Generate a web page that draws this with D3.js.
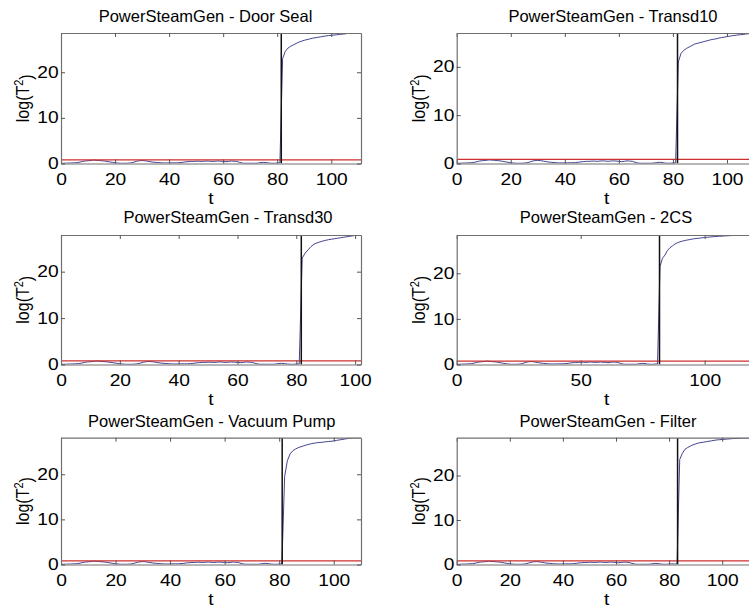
<!DOCTYPE html>
<html>
<head>
<meta charset="utf-8">
<script src="https://cdn.jsdelivr.net/npm/d3@7"></script>
<style>
  body { margin: 0; background: #fff; }
  svg { display: block; }
  text { font-family: "Liberation Sans", Arial, Helvetica, sans-serif; fill: #000; }
</style>
</head>
<body>
<svg id="fig" width="749" height="609"></svg>
<script>
// Panel titles (one fault scenario per subplot)
const titles = [
  "PowerSteamGen - Door Seal",
  "PowerSteamGen - Transd10",
  "PowerSteamGen - Transd30",
  "PowerSteamGen - 2CS",
  "PowerSteamGen - Vacuum Pump",
  "PowerSteamGen - Filter"
];

// log(T^2) during normal operation, samples t = 0..81
const normalSegment = [
  0.05, 0.05, 0.08, 0.10, 0.12, 0.15, 0.20, 0.30, 0.45, 0.55,
  0.60, 0.65, 0.75, 0.70, 0.65, 0.60, 0.55, 0.45, 0.35, 0.25,
  0.15, 0.10, 0.05, 0.05, 0.05, 0.08, 0.15, 0.30, 0.50, 0.60,
  0.65, 0.60, 0.50, 0.40, 0.30, 0.25, 0.20, 0.15, 0.12, 0.12,
  0.12, 0.15, 0.15, 0.15, 0.20, 0.25, 0.35, 0.40, 0.45, 0.45,
  0.50, 0.50, 0.45, 0.50, 0.55, 0.50, 0.45, 0.50, 0.55, 0.50,
  0.45, 0.40, 0.45, 0.55, 0.50, 0.45, 0.25, 0.10, 0.05, 0.05,
  0.05, 0.05, 0.05, 0.10, 0.20, 0.25, 0.20, 0.10, 0.05, 0.05,
  0.10, 0.15
];

// log(T^2) after the fault is introduced, samples from t = 82 onward
const doorSealPost = [
  23.0, 24.6, 25.3, 25.7, 26.0, 26.3, 26.6, 26.8, 27.0, 27.15,
  27.3, 27.45, 27.55, 27.65, 27.75, 27.85, 27.95, 28.05, 28.1, 28.15,
  28.2, 28.3, 28.35, 28.4, 28.5, 28.55, 28.6, 28.6, 28.6, 28.6
];
const transd10Post = [
  21.0, 22.8, 23.4, 23.8, 24.1, 24.4, 24.7, 24.85, 25.0, 25.15,
  25.3, 25.45, 25.6, 25.7, 25.8, 25.95, 26.05, 26.15, 26.25, 26.35,
  26.45, 26.5, 26.6, 26.65, 26.7, 26.8, 26.85, 26.9, 27.0, 27.0
];
const transd30Post = [
  22.9, 24.0, 24.7, 25.4, 25.9, 26.2, 26.4, 26.6, 26.75, 26.9,
  27.0, 27.1, 27.2, 27.3, 27.4, 27.5, 27.6, 27.7, 27.8, 27.9,
  27.9
];
const twoCSPost = [
  21.5, 23.3, 24.0, 25.0, 25.6, 26.0, 26.4, 26.7, 26.9, 27.05,
  27.2, 27.3, 27.4, 27.5, 27.6, 27.65, 27.7, 27.8, 27.85, 27.9,
  27.95, 28.0, 28.05, 28.1, 28.12, 28.15, 28.2, 28.22, 28.25, 28.28,
  28.3, 28.33, 28.36, 28.38, 28.4, 28.4, 28.4, 28.4, 28.4, 28.4
];
const vacuumPumpPost = [
  19.5, 23.0, 24.5, 25.2, 25.6, 25.9, 26.1, 26.3, 26.5, 26.65,
  26.8, 26.9, 27.0, 27.05, 27.1, 27.2, 27.25, 27.3, 27.4, 27.5,
  27.6, 27.7, 27.8, 27.9, 28.0, 28.05, 28.1, 28.1, 28.1
];
const filterPost = [
  0.10, 0.15, 23.6, 25.0, 25.9, 26.3, 26.6, 26.9, 27.1, 27.3,
  27.4, 27.5, 27.6, 27.7, 27.8, 27.9, 28.0, 28.05, 28.1, 28.15,
  28.2, 28.25, 28.3, 28.33, 28.36, 28.4, 28.43, 28.46, 28.5, 28.5,
  28.5, 28.5
];
const postSeries = [doorSealPost, transd10Post, transd30Post, twoCSPost, vacuumPumpPost, filterPost];

// Fault onset time (vertical marker) and log control limit (horizontal marker)
const faultTimes = [81.5, 81.7, 81.7, 81.8, 81.1, 83.2];
const controlLimits = [0.8, 0.85, 0.8, 0.75, 0.8, 0.8];

// Tick values
const xTickSets = [
  [0, 20, 40, 60, 80, 100],
  [0, 20, 40, 60, 80, 100],
  [0, 20, 40, 60, 80, 100],
  [0, 50, 100],
  [0, 20, 40, 60, 80, 100],
  [0, 20, 40, 60, 80, 100]
];
const yTicks = [0, 10, 20];

// ---- layout ----
const colLeft = [61, 456.7];
const plotW = 300;
const rowTop = [33, 235, 437.7];
const rowBottom = [163.5, 364.5, 564.5];
const titleX = [205.5, 613, 228, 606, 211.7, 608];
const titleY = [21.7, 21.7, 222.6, 223.3, 426.7, 426.7];
const wide = "scale(1.2,1)";   // axis lettering is set slightly extended

const svg = d3.select("#fig");
const defs = svg.append("defs");

titles.forEach((title, i) => {
  const col = i % 2, row = Math.floor(i / 2);
  const left = colLeft[col], right = left + plotW;
  const top = rowTop[row], bottom = rowBottom[row];

  const values = normalSegment.concat(postSeries[i]);
  const data = values.map((v, t) => ({ t, v }));

  const x = d3.scaleLinear().domain([0, data.length - 1]).range([left, right]);
  const y = d3.scaleLinear().domain([0, d3.max(values)]).range([bottom, top]);

  const g = svg.append("g");

  defs.append("clipPath").attr("id", "clip" + i)
    .append("rect").attr("x", left).attr("y", top)
    .attr("width", right - left).attr("height", bottom - top);

  const plot = g.append("g").attr("clip-path", `url(#clip${i})`);

  // T^2 statistic
  plot.append("path")
    .datum(data)
    .attr("fill", "none")
    .attr("stroke", "#2e2e85")
    .attr("stroke-width", 0.9)
    .attr("d", d3.line().x(d => x(d.t)).y(d => y(Math.max(0, d.v))));

  // control limit
  plot.append("line")
    .attr("x1", left).attr("x2", right)
    .attr("y1", y(controlLimits[i])).attr("y2", y(controlLimits[i]))
    .attr("stroke", "#cf2e2e").attr("stroke-width", 1.3);

  // fault onset
  plot.append("line")
    .attr("x1", x(faultTimes[i])).attr("x2", x(faultTimes[i]))
    .attr("y1", top).attr("y2", bottom)
    .attr("stroke", "#111").attr("stroke-width", 1.5);

  // axes (box with inward ticks on all four sides)
  const styleAxis = sel => {
    sel.select(".domain").attr("stroke", "#707070").attr("stroke-width", 1.2);
    sel.selectAll(".tick line").attr("stroke", "#555");
    sel.selectAll(".tick text")
      .style("font-family", "'Liberation Sans', Arial, sans-serif")
      .style("font-size", "16px").attr("fill", "#000")
      .attr("transform", wide);
  };

  g.append("g").attr("transform", `translate(0,${bottom})`)
    .call(d3.axisBottom(x).tickValues(xTickSets[i]).tickSizeInner(-4).tickSizeOuter(0).tickPadding(10))
    .call(styleAxis);
  g.append("g").attr("transform", `translate(0,${top})`)
    .call(d3.axisTop(x).tickValues(xTickSets[i]).tickSizeInner(-4).tickSizeOuter(0).tickFormat(""))
    .call(styleAxis);
  g.append("g").attr("transform", `translate(${left},0)`)
    .call(d3.axisLeft(y).tickValues(yTicks).tickSizeInner(-4).tickSizeOuter(0).tickPadding(2))
    .call(styleAxis);
  g.append("g").attr("transform", `translate(${right},0)`)
    .call(d3.axisRight(y).tickValues(yTicks).tickSizeInner(-4).tickSizeOuter(0).tickFormat(""))
    .call(styleAxis);

  // title
  g.append("text")
    .attr("x", titleX[i]).attr("y", titleY[i])
    .attr("text-anchor", "middle")
    .style("font-size", "16.5px")
    .text(title);

  // x label
  g.append("text")
    .attr("transform", `translate(${(left + right) / 2},${bottom + 40}) ${wide}`)
    .attr("text-anchor", "middle")
    .style("font-size", "16px")
    .text("t");

  // y label log(T^2)
  const yl = g.append("text")
    .attr("transform", `translate(${left - 32},${(top + bottom) / 2}) rotate(-90) scale(1,1.15)`)
    .attr("text-anchor", "middle")
    .style("font-size", "16px");
  yl.append("tspan").text("log(T");
  yl.append("tspan").attr("dy", "-0.45em").style("font-size", "11px").text("2");
  yl.append("tspan").attr("dy", "0.45em").text(")");
});
</script>
</body>
</html>
